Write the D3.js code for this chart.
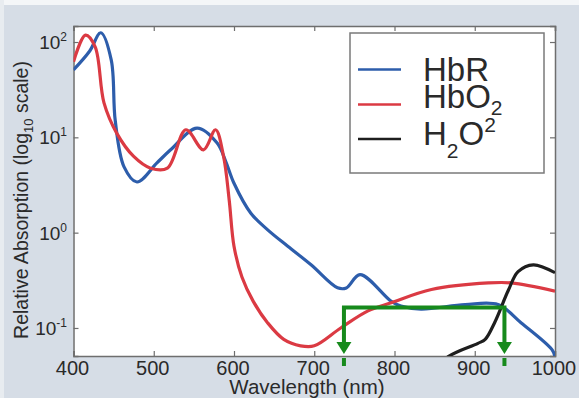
<!DOCTYPE html>
<html>
<head>
<meta charset="utf-8">
<script src="https://cdn.jsdelivr.net/npm/d3@7"></script>
<style>
  html, body { margin: 0; padding: 0; background: #d9dfe7; }
  svg { display: block; font-family: "Liberation Sans", Arial, sans-serif; }
</style>
</head>
<body>
<svg id="chart" width="579" height="398"></svg>
<script>
// ---- Data ----
const hbrWave = [400, 420, 434, 447, 452, 463, 479, 504, 521, 554, 579, 590, 600, 621, 642, 667, 696, 729, 740, 757, 796, 808, 833, 888, 929, 958, 996, 1000];
const hbrVal  = [51, 80, 125, 65, 15, 4.9, 3.4, 5.4, 7.4, 12.5, 8.7, 5.5, 3.3, 1.6, 1.07, 0.72, 0.46, 0.264, 0.263, 0.363, 0.19, 0.17, 0.158, 0.176, 0.176, 0.113, 0.0596, 0.050];

const hbo2Wave = [400, 415, 427, 438, 454, 475, 496, 517, 540, 562, 577, 587, 594, 600, 610, 624, 642, 662, 683, 700, 733, 767, 796, 846, 917, 946, 1000];
const hbo2Val  = [62, 118, 89, 23, 11, 6.3, 4.75, 4.75, 12, 7.4, 12, 6.3, 2.2, 0.72, 0.34, 0.19, 0.113, 0.076, 0.065, 0.065, 0.1, 0.151, 0.184, 0.253, 0.297, 0.297, 0.243];

const h2oWave = [850, 867, 904, 913, 925, 942, 954, 973, 1000];
const h2oVal  = [0.035, 0.05, 0.069, 0.076, 0.115, 0.25, 0.39, 0.46, 0.38];

const seriesNames  = ["HbR", "HbO2", "H2O2"];
const xTickValues  = [400, 500, 600, 700, 800, 900, 1000];
const yTickExps    = [-1, 0, 1, 2];

// green window annotation
const windowStart = 737;
const windowEnd   = 937;
const windowLevel = 0.164;

// ---- Layout ----
const svg = d3.select("#chart");
const W = 579, H = 398;
const plot = { left: 73.5, right: 555, top: 26, bottom: 356 };

const x = d3.scaleLinear().domain([400, 1000]).range([plot.left, plot.right]);
const y = d3.scaleLog().domain([Math.pow(10, -1.294), Math.pow(10, 2.168)]).range([plot.bottom, plot.top]);

// background (light strips at top/left like the scan)
svg.append("rect").attr("width", W).attr("height", H).attr("fill", "#d6dde6");
svg.append("rect").attr("width", W).attr("height", 5).attr("fill", "#f4f6f8");
svg.append("rect").attr("width", 4).attr("height", H).attr("fill", "#e8ecf0");

// plot area
svg.append("rect")
  .attr("x", plot.left).attr("y", plot.top)
  .attr("width", plot.right - plot.left).attr("height", plot.bottom - plot.top)
  .attr("fill", "#ffffff");

svg.append("clipPath").attr("id", "clip")
  .append("rect")
  .attr("x", plot.left).attr("y", plot.top)
  .attr("width", plot.right - plot.left).attr("height", plot.bottom - plot.top);

// axes (ticks inward on all four sides)
const frameColor = "#6e6e6e";
const xAxisB = d3.axisBottom(x).tickValues(xTickValues).tickSize(-5).tickFormat("");
const xAxisT = d3.axisTop(x).tickValues(xTickValues).tickSize(-5).tickFormat("");
const yVals = yTickExps.map(e => Math.pow(10, e));
const yAxisL = d3.axisLeft(y).tickValues(yVals).tickSize(-5).tickFormat("");
const yAxisR = d3.axisRight(y).tickValues(yVals).tickSize(-5).tickFormat("");

function styleAxis(g) {
  g.select(".domain").attr("stroke", frameColor).attr("stroke-width", 1.5);
  g.selectAll(".tick line").attr("stroke", frameColor).attr("stroke-width", 1.2);
}
svg.append("g").attr("transform", `translate(0,${plot.bottom})`).call(xAxisB).call(styleAxis);
svg.append("g").attr("transform", `translate(0,${plot.top})`).call(xAxisT).call(styleAxis);
svg.append("g").attr("transform", `translate(${plot.left},0)`).call(yAxisL).call(styleAxis);
svg.append("g").attr("transform", `translate(${plot.right},0)`).call(yAxisR).call(styleAxis);

// x tick labels
svg.append("g").selectAll("text").data(xTickValues).join("text")
  .attr("x", d => x(d) - 1)
  .attr("y", 375)
  .attr("text-anchor", "middle")
  .attr("font-size", 20)
  .attr("fill", "#2a2a2a")
  .text(d => d);

// y tick labels 10^n
const yl = svg.append("g").selectAll("text").data(yTickExps).join("text")
  .attr("x", 67)
  .attr("y", d => y(Math.pow(10, d)) + 7)
  .attr("text-anchor", "end")
  .attr("font-size", 19)
  .attr("fill", "#2a2a2a");
yl.append("tspan").text("10");
yl.append("tspan").attr("dy", -8).attr("font-size", 12).text(d => d < 0 ? "-" + Math.abs(d) : d);

// axis titles
svg.append("text")
  .attr("x", 307).attr("y", 394)
  .attr("text-anchor", "middle")
  .attr("font-size", 20.5)
  .attr("fill", "#2a2a2a")
  .text("Wavelength (nm)");

const yt = svg.append("text")
  .attr("transform", "translate(28,200) rotate(-90)")
  .attr("text-anchor", "middle")
  .attr("font-size", 19.5)
  .attr("fill", "#2a2a2a");
yt.append("tspan").text("Relative Absorption (log");
yt.append("tspan").attr("dy", 5).attr("font-size", 13).text("10");
yt.append("tspan").attr("dy", -5).text(" scale)");

// curves
const line = d3.line()
  .x(d => x(d[0]))
  .y(d => y(d[1]))
  .curve(d3.curveCatmullRom.alpha(0.5));

const curves = [
  { wave: hbrWave,  val: hbrVal,  color: "#2d5dab" },
  { wave: hbo2Wave, val: hbo2Val, color: "#db3a43" },
  { wave: h2oWave,  val: h2oVal,  color: "#1e1e1e" }
];
const cg = svg.append("g").attr("clip-path", "url(#clip)");
curves.forEach(c => {
  cg.append("path")
    .datum(c.wave.map((w, i) => [w, c.val[i]]))
    .attr("d", line)
    .attr("fill", "none")
    .attr("stroke", c.color)
    .attr("stroke-width", 3.2)
    .attr("stroke-linejoin", "round");
});

// green window annotation
const green = "#178a1c";
const gy = y(windowLevel);
const ag = svg.append("g");
ag.append("path")
  .attr("d", `M${x(windowStart)},${plot.bottom - 13} V${gy} H${x(windowEnd)} V${plot.bottom - 13}`)
  .attr("fill", "none").attr("stroke", green).attr("stroke-width", 4);
[windowStart, windowEnd].forEach(w => {
  const cx = x(w);
  ag.append("path")
    .attr("d", `M${cx - 7.5},${plot.bottom - 14} L${cx + 7.5},${plot.bottom - 14} L${cx},${plot.bottom - 2} Z`)
    .attr("fill", green);
  ag.append("line")
    .attr("x1", cx).attr("x2", cx)
    .attr("y1", plot.bottom + 2).attr("y2", plot.bottom + 10)
    .attr("stroke", green).attr("stroke-width", 4);
});

// legend
const lg = svg.append("g");
lg.append("rect")
  .attr("x", 350).attr("y", 33).attr("width", 194).attr("height", 140)
  .attr("fill", "#ffffff").attr("stroke", "#7a7a7a").attr("stroke-width", 1.5);
const legendLineY = [69.5, 104.5, 139];
curves.forEach((c, i) => {
  lg.append("line")
    .attr("x1", 358).attr("x2", 401)
    .attr("y1", legendLineY[i]).attr("y2", legendLineY[i])
    .attr("stroke", c.color).attr("stroke-width", 2.5);
});
const lf = 33;
// HbR
lg.append("text").attr("x", 423).attr("y", 81).attr("font-size", lf).attr("fill", "#2a2a2a").text(seriesNames[0]);
// HbO2
const t2 = lg.append("text").attr("x", 423).attr("y", 108).attr("font-size", lf).attr("fill", "#2a2a2a");
t2.append("tspan").text("HbO");
t2.append("tspan").attr("dy", 7).attr("font-size", 21).text("2");
// H2O2
const t3 = lg.append("text").attr("x", 423).attr("y", 145).attr("font-size", lf).attr("fill", "#2a2a2a");
t3.append("tspan").text("H");
t3.append("tspan").attr("dy", 13).attr("font-size", 21).text("2");
t3.append("tspan").attr("dy", -13).text("O");
t3.append("tspan").attr("dy", -13).attr("font-size", 21).text("2");
</script>
</body>
</html>
